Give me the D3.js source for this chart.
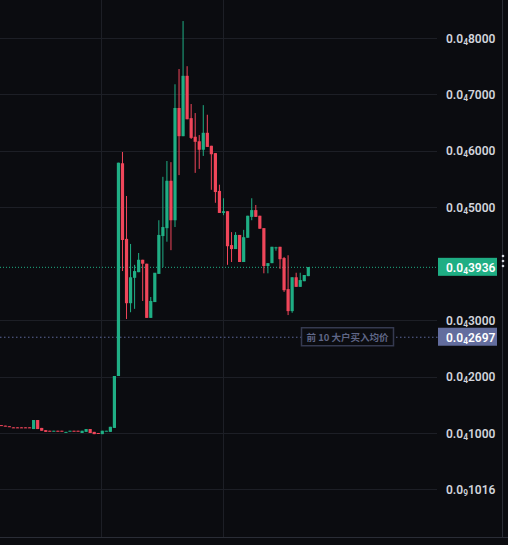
<!DOCTYPE html>
<html><head><meta charset="utf-8">
<script src="https://cdn.jsdelivr.net/npm/d3@7"></script>
<style>body{margin:0;background:#0b0c10;}svg{display:block}</style>
</head><body>
<script>
// prices in units of 1e-5 (labels written as 0.0₄xxxx)
const open  = [1.14,1.13,1.12,1.10,1.10,1.10,1.10,1.10,1.07,1.23,1.09,1.05,1.04,1.03,1.04,1.04,1.01,1.03,1.04,1.04,1.00,1.02,1.07,1.02,1.00,0.98,1.03,1.02,1.09,2.01,
  5.78,4.44,3.30,3.75,3.85,4.07,4.00,3.04,3.32,3.82,4.49,4.63,5.47,4.77,6.76,6.26,7.33,6.58,6.25,6.17,6.02,6.32,6.09,5.96,5.29,4.90,4.93,4.33,4.26,4.51,4.03,4.46,4.83,4.95,4.85,4.63,3.96,4.01,4.28,4.30,4.10,3.55,3.16,3.76,3.59,3.69,3.78];
const close = [1.13,1.12,1.11,1.09,1.09,1.09,1.09,1.09,1.23,1.07,1.04,1.02,1.03,1.04,1.03,1.03,1.02,1.04,1.03,1.03,1.04,1.07,1.00,0.98,0.99,1.04,1.04,1.11,2.01,5.79,
  4.42,3.30,3.76,3.87,4.07,4.00,3.04,3.34,3.84,4.51,4.65,5.47,4.77,6.76,6.26,7.33,6.56,6.23,6.16,6.02,6.32,6.07,5.94,5.27,4.90,4.93,4.31,4.26,4.51,4.03,4.47,4.85,4.95,4.83,4.62,3.96,4.01,4.30,4.29,4.08,3.53,3.16,3.76,3.59,3.71,3.80,3.94];
const high  = [null,null,null,null,null,null,null,null,null,null,null,null,null,null,null,null,null,null,null,null,null,null,null,null,null,null,null,null,null,null,
  5.98,5.20,4.35,3.98,4.19,4.07,4.00,3.41,3.32,4.77,5.54,5.82,5.80,7.18,7.45,8.30,7.50,6.83,6.67,6.28,6.81,6.64,6.09,5.96,5.40,5.16,4.93,4.56,4.56,4.51,4.60,4.85,5.16,5.04,4.85,4.63,4.01,4.30,4.30,4.30,4.12,4.15,3.76,3.84,3.84,3.80,3.94];
const low   = [null,null,null,null,null,null,null,null,null,null,null,null,null,null,null,null,null,null,null,null,null,null,null,null,null,null,null,null,null,null,
  3.87,3.02,3.14,3.20,3.85,3.34,3.04,3.04,3.32,3.82,3.94,4.39,4.24,4.65,5.57,6.26,6.56,6.21,5.61,5.68,5.91,6.07,5.31,5.08,4.90,4.86,3.98,4.03,4.26,4.03,4.03,4.46,4.77,4.83,4.62,3.83,3.83,4.01,4.23,3.91,3.50,3.09,3.13,3.59,3.59,3.69,3.78];
const tickValues = [8,7,6,5,3,2,1,0];
const tickLabels = [["0.0","4","8000"],["0.0","4","7000"],["0.0","4","6000"],["0.0","4","5000"],["0.0","4","3000"],["0.0","4","2000"],["0.0","4","1000"],["0.0","9","1016"]];
const lastPrice = 3.936, lastLabel = ["0.0","4","3936"];
const avgPrice = 2.697, avgLabel = ["0.0","4","2697"];
const avgNote = "前 10 大户买入均价";

const W=508,H=545, GREEN="#1fae84", RED="#f0465a";
const svg=d3.select("body").append("svg").attr("width",W).attr("height",H);
svg.append("rect").attr("width",W).attr("height",H).attr("fill","#0b0c10");
const y=d3.scaleLinear().domain([1,8]).range([433,38]);
const x=d3.scaleLinear().domain([0,open.length-1]).range([1.3,308.3]);

// grid
svg.selectAll(".gh").data(tickValues).join("line").attr("x1",0).attr("x2",437)
  .attr("y1",d=>Math.round(y(d))+.5).attr("y2",d=>Math.round(y(d))+.5).attr("stroke","#1d1f26");
[101.5,223.5].forEach(gx=>svg.append("line").attr("x1",gx).attr("x2",gx).attr("y1",0).attr("y2",537).attr("stroke","#1d1f26"));
svg.append("line").attr("x1",0).attr("x2",W).attr("y1",537.5).attr("y2",537.5).attr("stroke","#2a2d36");
svg.append("line").attr("x1",502.5).attr("x2",502.5).attr("y1",0).attr("y2",537).attr("stroke","#2a2d36");

// dotted lines
svg.append("line").attr("x1",0).attr("x2",438).attr("y1",y(lastPrice)).attr("y2",y(lastPrice)).attr("stroke",GREEN).attr("stroke-dasharray","1,2");
svg.append("line").attr("x1",0).attr("x2",438).attr("y1",y(avgPrice)).attr("y2",y(avgPrice)).attr("stroke","#5d679a").attr("stroke-dasharray","1.5,2.5");

// candles
const idx=d3.range(open.length);
const g=svg.append("g");
idx.forEach(i=>{
  const o=open[i],c=close[i],up=c>=o,col=up?GREEN:RED;
  const h=high[i]==null?Math.max(o,c):high[i], l=low[i]==null?Math.min(o,c):low[i];
  const cx=x(i);
  g.append("line").attr("x1",cx).attr("x2",cx).attr("y1",y(h)).attr("y2",y(l)).attr("stroke",col).attr("stroke-width",1);
  const top=y(Math.max(o,c)), bot=y(Math.min(o,c));
  g.append("rect").attr("x",cx-1.6).attr("width",3.2).attr("y",top).attr("height",Math.max(1,bot-top)).attr("fill",col);
});

// labels
function lab(sel,parts,fs){
  sel.append("tspan").text(parts[0]);
  sel.append("tspan").text(parts[1]).attr("font-size",fs*0.7).attr("dy",2);
  sel.append("tspan").text(parts[2]).attr("dy",-2);
}
tickValues.forEach((v,k)=>{
  const t=svg.append("text").attr("x",446).attr("y",y(v)+4.5).attr("fill","#d1d4dc")
    .attr("font-family","Roboto, 'Noto Sans', sans-serif").attr("font-size",12).attr("font-weight",600);
  lab(t,tickLabels[k],12);
});
function tag(v,parts,fill){
  const yy=y(v);
  svg.append("rect").attr("x",438).attr("y",yy-9.5).attr("width",59).attr("height",18).attr("fill",fill);
  const t=svg.append("text").attr("x",446).attr("y",yy+4.5).attr("fill","#ffffff")
    .attr("font-family","Roboto, 'Noto Sans', sans-serif").attr("font-size",12).attr("font-weight",600);
  lab(t,parts,12);
}
tag(lastPrice,lastLabel,GREEN);
tag(avgPrice,avgLabel,"#636d9e");
// note box
const ny=y(avgPrice);
svg.append("rect").attr("x",301.5).attr("y",ny-9.5).attr("width",92).attr("height",18).attr("fill","#0b0c10").attr("stroke","#353a50").attr("stroke-width",1.5);
svg.append("text").attr("x",347.5).attr("y",ny+4).attr("text-anchor","middle").attr("fill","#5f6686")
  .attr("font-family","'Noto Sans CJK SC', sans-serif").attr("font-size",9.5).attr("font-weight",700).text(avgNote);
// ellipsis
[256,261,266].forEach(cy=>svg.append("circle").attr("cx",503).attr("cy",cy).attr("r",1.3).attr("fill","#d1d4dc"));
</script>
</body></html>
